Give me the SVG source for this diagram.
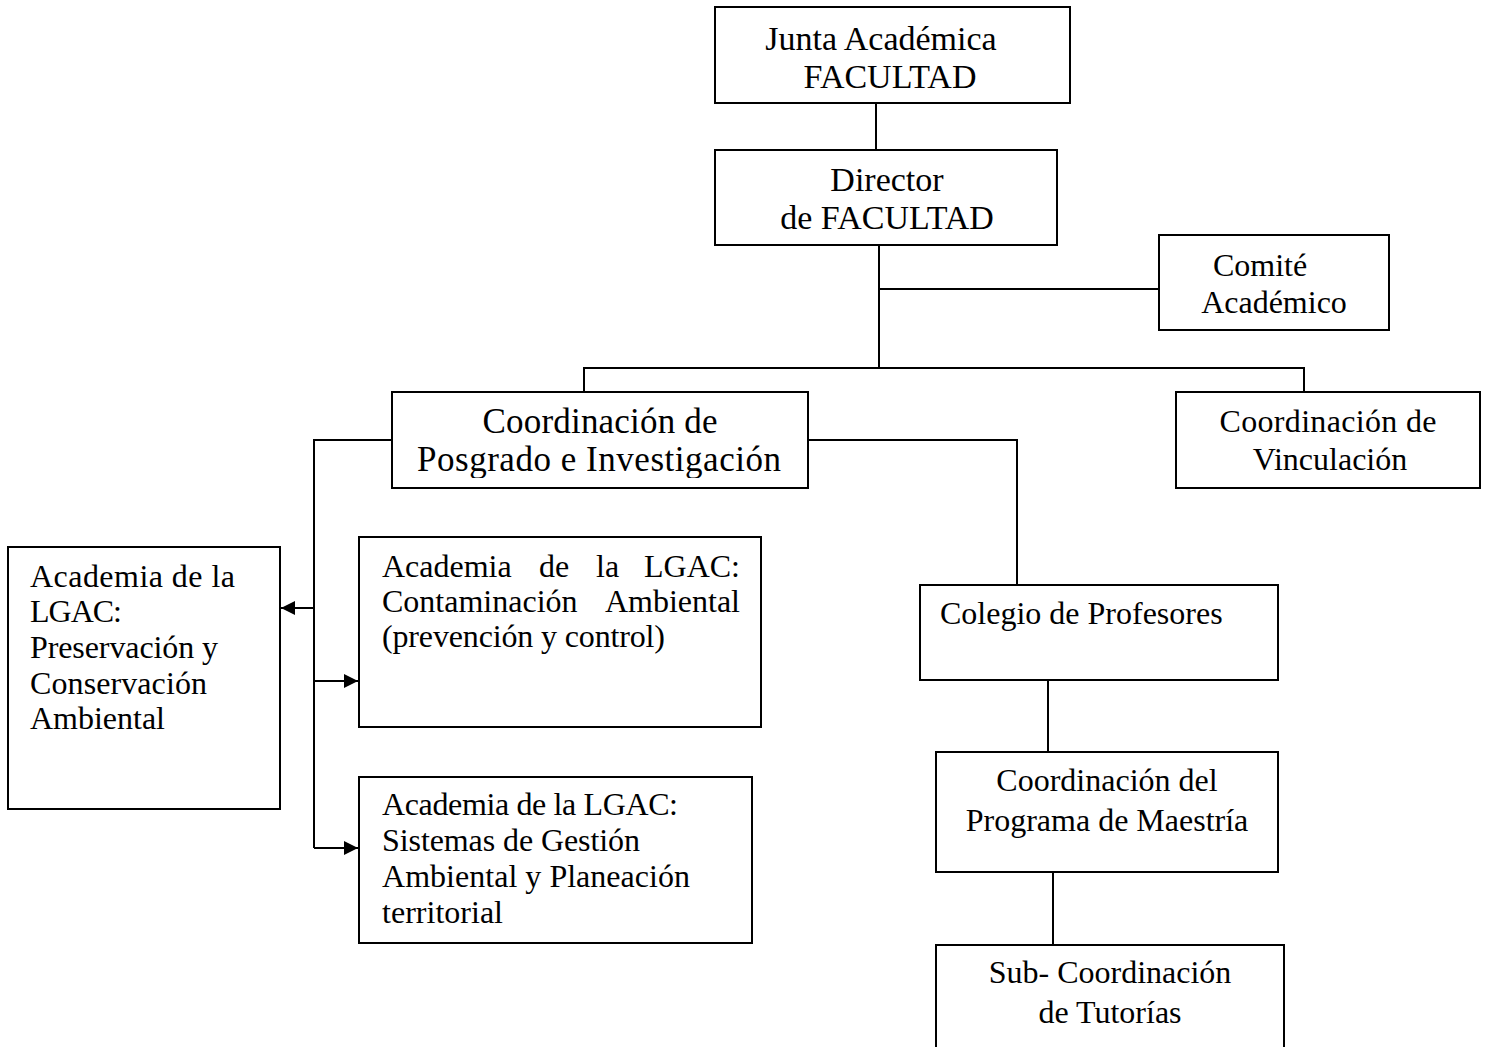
<svg xmlns="http://www.w3.org/2000/svg" width="1490" height="1047" viewBox="0 0 1490 1047">
<style>
.box{fill:#fff;stroke:#000;stroke-width:2}
.ln{fill:none;stroke:#000;stroke-width:2}
.t{font-family:"Liberation Serif","Times New Roman",serif;font-size:32px;fill:#000}
.tb{font-family:"Liberation Serif","Times New Roman",serif;font-size:34px;fill:#000}
.p{font-family:"Liberation Serif","Times New Roman",serif;font-size:32px;fill:#000}
.pb{font-family:"Liberation Serif","Times New Roman",serif;font-size:35px;fill:#000}
.c{text-anchor:middle}
</style>
<defs>
<marker id="ah" viewBox="0 0 10 10" refX="10" refY="5" markerWidth="16" markerHeight="14" markerUnits="userSpaceOnUse" orient="auto">
<path d="M0,0 L10,5 L0,10 z" fill="#000"/>
</marker>
<clipPath id="clipPos"><rect x="392" y="392" width="416" height="86"/></clipPath>
</defs>
<rect width="1490" height="1047" fill="#fff"/>
<g id="connectors">
<line class="ln" x1="876" y1="103" x2="876" y2="150"/>
<line class="ln" x1="879" y1="245" x2="879" y2="368"/>
<line class="ln" x1="879" y1="289" x2="1159" y2="289"/>
<polyline class="ln" points="584,392 584,368 1304,368 1304,392"/>
<polyline class="ln" points="392,440 314,440 314,848"/>
<line class="ln" x1="314" y1="608" x2="281" y2="608" marker-end="url(#ah)"/>
<line class="ln" x1="314" y1="681" x2="358" y2="681" marker-end="url(#ah)"/>
<line class="ln" x1="314" y1="848" x2="358" y2="848" marker-end="url(#ah)"/>
<polyline class="ln" points="808,440 1017,440 1017,585"/>
<line class="ln" x1="1048" y1="680" x2="1048" y2="752"/>
<line class="ln" x1="1053" y1="872" x2="1053" y2="945"/>
</g>
<g id="junta">
<rect class="box" x="715" y="7" width="355" height="96"/>
<text class="tb c" x="881" y="50">Junta Académica</text>
<text class="tb c" x="890" y="88">FACULTAD</text>
</g>
<g id="director">
<rect class="box" x="715" y="150" width="342" height="95"/>
<text class="tb c" x="887" y="191">Director</text>
<text class="tb c" x="887" y="229">de FACULTAD</text>
</g>
<g id="comite">
<rect class="box" x="1159" y="235" width="230" height="95"/>
<text class="t c" x="1260" y="276">Comité</text>
<text class="t c" x="1274" y="313">Académico</text>
</g>
<g id="posgrado">
<rect class="box" x="392" y="392" width="416" height="96"/>
<g clip-path="url(#clipPos)">
<text class="pb c" x="600" y="433" textLength="235">Coordinación de</text>
<text class="pb c" x="599" y="471" textLength="364">Posgrado e  Investigación</text>
</g>
</g>
<g id="vinculacion">
<rect class="box" x="1176" y="392" width="304" height="96"/>
<text class="t c" x="1328" y="432" textLength="217">Coordinación  de</text>
<text class="t c" x="1330" y="470">Vinculación</text>
</g>
<g id="preservacion">
<rect class="box" x="8" y="547" width="272" height="262"/>
<text class="p" x="30" y="587" textLength="205">Academia de  la</text>
<text class="p" x="30" y="622" textLength="92">LGAC:</text>
<text class="p" x="30" y="658" textLength="188">Preservación y</text>
<text class="p" x="30" y="694" textLength="177">Conservación</text>
<text class="p" x="30" y="729" textLength="135">Ambiental</text>
</g>
<g id="contaminacion">
<rect class="box" x="359" y="537" width="402" height="190"/>
<text class="p" x="382" y="577">Academia</text>
<text class="p" x="539" y="577">de</text>
<text class="p" x="596" y="577">la</text>
<text class="p" x="740" y="577" text-anchor="end">LGAC:</text>
<text class="p" x="382" y="612">Contaminación</text>
<text class="p" x="740" y="612" text-anchor="end">Ambiental</text>
<text class="p" x="382" y="647" textLength="283">(prevención y control)</text>
</g>
<g id="sistemas">
<rect class="box" x="359" y="777" width="393" height="166"/>
<text class="p" x="382" y="815" textLength="296">Academia de la LGAC:</text>
<text class="p" x="382" y="851" textLength="258">Sistemas de Gestión</text>
<text class="p" x="382" y="887" textLength="308">Ambiental y Planeación</text>
<text class="p" x="382" y="923" textLength="121">territorial</text>
</g>
<g id="colegio">
<rect class="box" x="920" y="585" width="358" height="95"/>
<text class="t" x="940" y="624">Colegio de Profesores</text>
</g>
<g id="programa">
<rect class="box" x="936" y="752" width="342" height="120"/>
<text class="t c" x="1107" y="791">Coordinación del</text>
<text class="t c" x="1107" y="831">Programa de Maestría</text>
</g>
<g id="tutorias">
<rect class="box" x="936" y="945" width="348" height="110"/>
<text class="t c" x="1110" y="983">Sub- Coordinación</text>
<text class="t c" x="1110" y="1023">de Tutorías</text>
</g>
</svg>
